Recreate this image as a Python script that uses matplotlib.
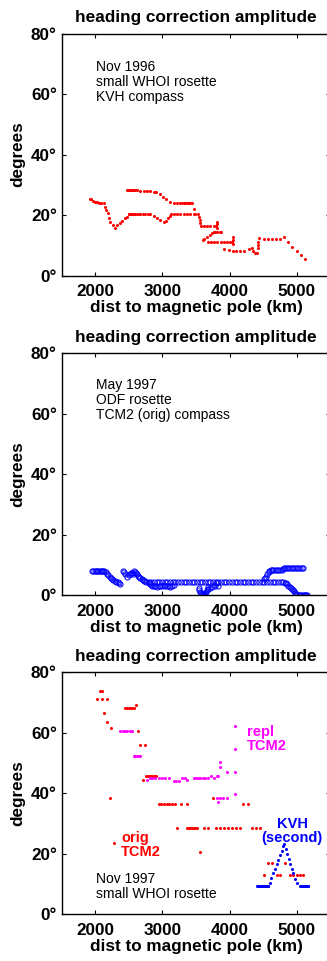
import matplotlib
matplotlib.use("Agg")
import matplotlib.pyplot as plt

plt.rcParams['font.family'] = ['Liberation Sans', 'DejaVu Sans']

# ---- Nov 1996, KVH compass (red dots)
nov96_x = [1926, 1936, 1960, 1990, 2025, 2060, 2089, 2124, 2139, 2164, 2184, 2203, 2223, 2258, 2288,
           2322, 2362, 2402, 2436, 2471,
           2496, 2509, 2521, 2533, 2546, 2558, 2570, 2583, 2595, 2620, 2645, 2670, 2704, 2744, 2779, 2818,
           2868, 2918, 2967, 3017, 3051, 3076, 3106, 3131,
           3166, 3215, 3265, 3314, 3364, 3414, 3463, 3488, 3523,
           2471, 2483, 2496, 2509, 2521, 2533, 2546, 2558, 2570, 2595, 2620, 2670, 2719, 2769, 2818, 2868, 2908,
           2957, 3007, 3056, 3116, 3166, 3215, 3265, 3290, 3314, 3339, 3364, 3389, 3414, 3438, 3463,
           3548, 3553, 3562, 3572, 3612, 3662, 3711, 3761, 3801, 3810, 3810, 3815,
           3761, 3786, 3820, 3850, 3870,
           3736, 3701, 3662, 3622, 3602,
           3672, 3721, 3771, 3820, 3870, 3920, 3969, 4009, 4034, 4049, 4049, 4049,
           3920, 3984, 4044, 4098, 4158, 4217, 4282, 4331,
           4356, 4381, 4406, 4416, 4421, 4430, 4440,
           4515, 4569, 4629, 4693, 4753, 4817,
           4877, 4936, 5001, 5060, 5120]
nov96_y = [25.4, 25.4, 24.8, 24.5, 24.3, 24.1, 24.0, 23.9, 22.8, 21.7, 20.6, 19.2, 17.9, 16.7, 15.7,
           16.8, 17.5, 18.2, 19.0, 19.5,
           20.4, 20.4, 20.4, 20.4, 20.4, 20.4, 20.4, 20.4, 20.4, 20.4, 20.4, 20.4, 20.4, 20.4, 20.4, 20.4,
           19.7, 19.0, 18.4, 17.9, 18.2, 19.0, 19.8, 20.4,
           20.4, 20.4, 20.4, 20.4, 20.4, 20.4, 20.4, 20.4, 20.4,
           28.2, 28.2, 28.2, 28.2, 28.2, 28.2, 28.2, 28.2, 28.2, 28.2, 28.2, 28.0, 28.0, 28.0, 27.9, 27.8, 27.6,
           26.9, 26.1, 25.4, 24.5, 23.9, 23.9, 23.9, 23.9, 23.9, 23.9, 23.9, 23.9, 23.9, 23.9, 21.9,
           19.5, 18.4, 17.3, 16.5, 16.4, 16.4, 16.4, 16.4, 16.4, 17.9, 17.1, 15.7,
           14.6, 14.6, 14.6, 14.6, 14.6,
           14.0, 13.5, 12.7, 12.0, 11.8,
           11.3, 11.3, 11.3, 11.3, 11.3, 11.3, 11.3, 11.3, 11.3, 12.7, 11.8, 10.5,
           8.7, 8.5, 8.3, 8.1, 8.0, 8.0, 8.7, 9.2,
           8.0, 7.4, 7.6, 9.0, 10.1, 11.3, 12.4,
           12.0, 12.0, 12.1, 12.1, 12.2, 12.7,
           11.1, 9.6, 8.2, 6.8, 5.5]

# ---- May 1997, TCM2 (orig) compass (blue circles)
may97_x = [1950, 1970, 1990, 2010, 2025, 2045, 2065, 2080, 2099, 2115, 2134,
           2154, 2174, 2194, 2213, 2230, 2248, 2268, 2288, 2310, 2332, 2352, 2372,
           2412, 2430, 2446, 2471, 2496, 2515, 2531, 2545, 2560, 2580, 2595, 2610, 2622, 2635, 2652, 2670,
           2694, 2710, 2729, 2745, 2759, 2794, 2810, 2828, 2850, 2868,
           2893, 2918, 2942, 2967, 2992, 3017, 3042, 3066, 3091, 3116, 3140, 3166,
           2794, 2834, 2874, 2914, 2954, 2994, 3034, 3074, 3114, 3154, 3194, 3234, 3274, 3314, 3354, 3394,
           3434, 3474, 3514, 3554, 3594, 3634, 3674, 3714, 3754, 3794, 3834, 3874, 3914, 3954,
           3994, 4034, 4074, 4114, 4154, 4194, 4234, 4274, 4314, 4354, 4394, 4434, 4480,
           3538, 3550, 3562, 3575, 3587, 3600, 3612, 3625, 3637, 3650, 3662, 3675, 3686, 3711, 3736, 3761,
           3785, 3810, 3835,
           4515, 4530, 4545, 4564, 4580, 4594, 4612, 4629, 4652, 4678, 4703, 4728, 4752, 4777, 4795, 4812,
           4832, 4852, 4877, 4901, 4926, 4951, 4976, 5001, 5025, 5050, 5075, 5100,
           4520, 4560, 4600, 4640, 4680, 4720, 4760, 4802, 4822, 4842, 4860, 4877, 4894, 4911, 4926, 4941,
           4958, 4976, 4993, 5011, 5030, 5050, 5070, 5090, 5110, 5130, 5145, 5160]
may97_y = [8.0, 8.0, 8.0, 8.0, 8.0, 8.0, 8.0, 8.1, 8.1, 8.0, 8.0,
           7.6, 7.1, 6.6, 6.2, 5.8, 5.4, 5.0, 4.7, 4.5, 4.3, 4.0, 3.8,
           8.2, 7.6, 7.1, 6.2, 6.7, 7.1, 7.5, 7.3, 7.1, 8.2, 7.8, 7.3, 6.9, 6.4, 6.0, 5.6,
           5.3, 5.1, 4.9, 4.7, 4.5, 4.0, 3.7, 3.4, 3.2, 3.1,
           3.0, 2.9, 3.0, 3.1, 3.2, 3.4, 3.2, 3.1, 3.0, 2.9, 3.1, 3.4,
           4.3, 4.3, 4.3, 4.3, 4.3, 4.3, 4.3, 4.3, 4.3, 4.3, 4.3, 4.3, 4.3, 4.3, 4.3, 4.3,
           4.3, 4.3, 4.3, 4.3, 4.3, 4.3, 4.3, 4.3, 4.3, 4.3, 4.3, 4.3, 4.3, 4.3,
           4.3, 4.3, 4.3, 4.3, 4.3, 4.3, 4.3, 4.3, 4.3, 4.3, 4.3, 4.3, 4.5,
           2.3, 1.8, 1.2, 0.8, 0.4, 0.2, 0.0, 0.3, 0.7, 1.2, 1.8, 2.2, 2.6, 2.3, 2.9, 3.4,
           3.0, 4.0, 3.2,
           5.3, 5.8, 6.2, 7.1, 7.6, 8.0, 8.3, 8.4, 8.4, 8.4, 8.4, 8.4, 8.4, 8.4, 8.6, 8.9,
           9.0, 9.0, 9.0, 9.0, 9.0, 9.0, 9.0, 9.0, 9.0, 9.0, 9.0, 9.0,
           4.3, 4.3, 4.3, 4.3, 4.3, 4.3, 4.3, 4.3, 4.2, 4.0, 3.6, 3.2, 2.8, 2.5, 2.1, 1.8,
           1.4, 0.9, 0.4, 0.0, 0.0, 0.0, 0.0, 0.0, 0.0, 0.0, 0.0, 0.0]

# ---- Nov 1997, orig TCM2 (red), repl TCM2 (magenta), KVH second (blue)
orig_x = [2074, 2100, 2025, 2100, 2174, 2124, 2174, 2233,
          2446, 2471, 2496, 2521, 2546, 2570, 2610, 2635, 2670, 2744, 2223, 2273, 2704,
          2759, 2784, 2808, 2833, 2858, 2883, 2908,
          2942, 2982, 3021, 3061, 3101, 3140, 3180, 3280, 3364, 3746, 4207, 4281,
          3216, 3364, 3389, 3414, 3439, 3463, 3488, 3513, 3622, 3686,
          3800, 3860, 3919, 3979, 4039, 4098, 4158, 4332, 4396, 4455,
          3562, 4579, 4629, 4827, 4515, 4704, 4753, 4902, 4951, 5001, 5050, 5100]
orig_y = [73.7, 73.7, 71.2, 71.2, 71.2, 66.5, 63.4, 61.5,
          68.2, 68.2, 68.2, 68.2, 68.2, 68.2, 69.3, 60.4, 55.9, 55.9, 38.3, 23.5, 44.5,
          45.8, 45.8, 45.8, 45.8, 45.8, 45.8, 45.8,
          36.4, 36.4, 36.4, 36.4, 36.4, 36.4, 36.4, 36.4, 36.4, 38.3, 36.4, 36.4,
          28.5, 28.5, 28.5, 28.5, 28.5, 28.5, 28.5, 28.5, 28.5, 28.5,
          28.5, 28.5, 28.5, 28.5, 28.5, 28.5, 28.5, 28.5, 28.5, 28.5,
          20.6, 17.1, 17.1, 17.1, 12.9, 12.9, 12.9, 12.9, 12.9, 12.9, 12.9, 12.9]

repl_x = [2372, 2407, 2442, 2476, 2511, 2546, 2570, 2595, 2620, 2645, 2670,
          2769, 2808, 2843, 2893, 2942, 2992, 3042, 3091, 3165, 3200, 3240, 3290, 3329, 3364,
          3463, 3498, 3528, 3562, 3597, 3637, 3677, 3721, 3775, 3811, 3830,
          3860, 3860, 3959, 4083, 4083, 4083, 4083, 3811, 3850, 3909, 3959, 3835]
repl_y = [60.4, 60.4, 60.4, 60.4, 60.4, 60.4, 52.2, 52.2, 52.2, 52.2, 52.2,
          44.5, 44.9, 44.9, 44.9, 44.9, 44.9, 44.9, 44.9, 44.1, 44.1, 44.1, 44.9, 44.9, 44.5,
          44.9, 44.9, 44.9, 44.9, 44.9, 44.9, 44.9, 45.8, 44.9, 45.8, 45.6,
          50.4, 48.6, 47.1, 62.3, 54.6, 47.1, 39.7, 38.3, 38.3, 38.3, 38.3, 37.0]

kvh_x = [4406, 4420, 4430, 4442, 4455, 4468, 4480, 4492, 4505, 4518, 4530, 4542, 4555, 4567, 4579,
         4600, 4620, 4650, 4675, 4700, 4725, 4750, 4775, 4802, 4817,
         4840, 4860, 4880, 4900, 4925, 4945, 4975, 5010,
         5050, 5062, 5075, 5088, 5100, 5112, 5125, 5138, 5150, 5162, 5175]
kvh_y = [9.2, 9.2, 9.2, 9.2, 9.2, 9.2, 9.2, 9.2, 9.2, 9.2, 9.2, 9.2, 9.2, 9.2, 9.2,
         10.5, 12.0, 13.5, 15.0, 16.6, 18.1, 19.6, 21.0, 22.6, 23.2,
         21.5, 20.0, 18.4, 16.7, 14.9, 13.5, 11.5, 10.3,
         9.2, 9.2, 9.2, 9.2, 9.2, 9.2, 9.2, 9.2, 9.2, 9.2, 9.2]

xticks = [2000, 3000, 4000, 5000]
yticks = [0, 20, 40, 60, 80]

fig = plt.figure(figsize=(3.27, 9.61), dpi=100)
bottoms = [0.7131, 0.3805, 0.0486]
axes = [fig.add_axes([0.1887, b, 0.8214, 0.252]) for b in bottoms]

for ax in axes:
    ax.set_xlim(1500, 5500)
    ax.set_ylim(0, 80)
    ax.set_xticks(xticks, [str(t) for t in xticks], fontweight='bold')
    ax.set_yticks(yticks, [f"{t}\u00b0" for t in yticks], fontweight='bold')
    ax.tick_params(direction='in', length=3, width=0.8, top=True, right=True, labelsize=12.3)
    ax.tick_params(axis='x', pad=6)
    ax.tick_params(axis='y', pad=3.5)
    for s in ax.spines.values():
        s.set_linewidth(1.0)
    ax.set_title("heading correction amplitude", fontsize=12.4, fontweight='bold', pad=8)
    ax.set_xlabel("dist to magnetic pole (km)", fontsize=12.3, fontweight='bold', labelpad=1)
    ax.set_ylabel("degrees", fontsize=12.3, fontweight='bold', labelpad=4)

ax1, ax2, ax3 = axes

ax1.plot(nov96_x, nov96_y, 'o', color='red', ms=2.2, mew=0)
ax1.text(2010, 71.3, "Nov 1996\nsmall WHOI rosette\nKVH compass", fontsize=10, va='top', linespacing=1.1)

ax2.plot(may97_x, may97_y, 'o', mfc='none', mec='blue', ms=3.7, mew=0.7)
ax2.text(2010, 71.9, "May 1997\nODF rosette\nTCM2 (orig) compass", fontsize=10, va='top', linespacing=1.1)

ax3.plot(orig_x, orig_y, 'o', color='red', ms=2.2, mew=0)
ax3.plot(repl_x, repl_y, 'o', color='magenta', ms=2.2, mew=0)
ax3.plot(kvh_x, kvh_y, 'o', color='blue', ms=2.2, mew=0)
ax3.text(2010, 14.0, "Nov 1997\nsmall WHOI rosette", fontsize=10, va='top', linespacing=1.1)
ax3.text(2382, 27.5, "orig\nTCM2", fontsize=10.5, fontweight='bold', color='red', va='top', linespacing=1.0)
ax3.text(4257, 62.6, "repl\nTCM2", fontsize=10.5, fontweight='bold', color='magenta', va='top', linespacing=1.0)
ax3.text(4931, 32.2, "KVH\n(second)", fontsize=10.5, fontweight='bold', color='blue', va='top',
         ha='center', multialignment='center', linespacing=1.0)

fig.savefig("out.png", dpi=100)
